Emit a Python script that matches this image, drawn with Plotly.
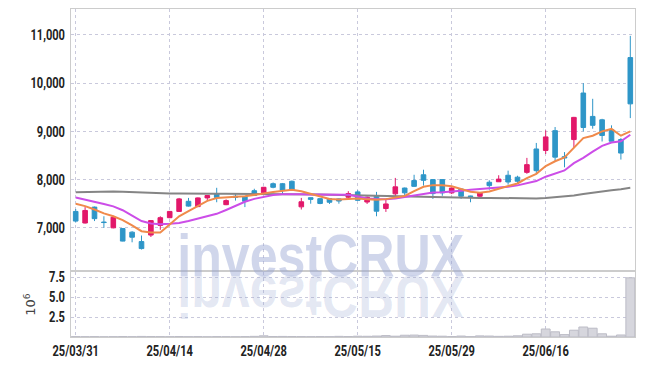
import plotly.graph_objects as go

dates = ["25/03/31", "25/04/01", "25/04/02", "25/04/03", "25/04/04",
         "25/04/07", "25/04/08", "25/04/09", "25/04/10", "25/04/11",
         "25/04/14", "25/04/15", "25/04/16", "25/04/17", "25/04/18",
         "25/04/21", "25/04/22", "25/04/23", "25/04/24", "25/04/25",
         "25/04/28", "25/04/29", "25/04/30", "25/05/02", "25/05/07",
         "25/05/08", "25/05/09", "25/05/12", "25/05/13", "25/05/14",
         "25/05/15", "25/05/16", "25/05/19", "25/05/20", "25/05/21",
         "25/05/22", "25/05/23", "25/05/26", "25/05/27", "25/05/28",
         "25/05/29", "25/05/30", "25/06/02", "25/06/04", "25/06/05",
         "25/06/09", "25/06/10", "25/06/11", "25/06/12", "25/06/13",
         "25/06/16", "25/06/17", "25/06/18", "25/06/19", "25/06/20",
         "25/06/23", "25/06/24", "25/06/25", "25/06/26", "25/06/27"]

open_ = [7340, 7100, 7430, 7120, 7000, 6985, 6910, 6715, 6850, 7050,
         7210, 7340, 7550, 7440, 7620, 7700, 7480, 7655, 7650, 7770,
         7725, 7915, 7915, 7965, 7435, 7625, 7605, 7605, 7600, 7635,
         7745, 7535, 7665, 7400, 7705, 7825, 7980, 8100, 8000, 8000,
         7725, 7805, 7660, 7655, 7945, 7955, 8090, 8050, 8150, 8635,
         8605, 9015, 8475, 8830, 9795, 9310, 9240, 9035, 8830, 10530]
high = [7390, 7430, 7440, 7240, 7250, 6990, 6930, 6840, 7160, 7240,
        7350, 7620, 7620, 7630, 7680, 7830, 7590, 7700, 7660, 7810,
        7850, 7940, 7930, 7980, 7620, 7630, 7610, 7610, 7610, 7760,
        7780, 7650, 7745, 7585, 8035, 7835, 8100, 8205, 8010, 8010,
        7840, 7810, 7665, 7730, 7985, 8090, 8185, 8080, 8450, 8760,
        9020, 9090, 8570, 9300, 10000, 9675, 9260, 9125, 8860, 10980]
low = [7110, 7090, 7140, 7000, 6990, 6720, 6700, 6550, 6810, 6960,
       7200, 7330, 7440, 7430, 7570, 7530, 7470, 7565, 7430, 7660,
       7710, 7820, 7700, 7780, 7380, 7500, 7490, 7495, 7500, 7600,
       7560, 7495, 7240, 7330, 7650, 7665, 7850, 7875, 7600, 7665,
       7700, 7600, 7530, 7600, 7790, 7950, 7895, 7920, 8120, 8120,
       8530, 8370, 8255, 8655, 9000, 9055, 8790, 8790, 8415, 9275]
close = [7140, 7360, 7190, 7110, 7220, 6725, 6805, 6570, 7150, 7210,
         7340, 7600, 7450, 7620, 7670, 7630, 7565, 7635, 7550, 7670,
         7840, 7840, 7775, 7790, 7540, 7590, 7505, 7530, 7555, 7710,
         7570, 7635, 7345, 7495, 7850, 7725, 7860, 7985, 7710, 7725,
         7825, 7655, 7650, 7725, 7875, 8010, 7950, 7965, 8310, 8185,
         8885, 8465, 8450, 9290, 9080, 9125, 8915, 8795, 8550, 9570]

ma_short = [7500, 7450, 7380, 7300, 7240, 7160, 7050, 6930, 6905, 6905,
            7070, 7240, 7345, 7450, 7560, 7620, 7640, 7645, 7655, 7675,
            7710, 7745, 7775, 7790, 7760, 7705, 7650, 7600, 7585, 7600,
            7610, 7590, 7580, 7595, 7625, 7660, 7760, 7850, 7885, 7885,
            7860, 7810, 7750, 7725, 7755, 7810, 7860, 7920, 8030, 8120,
            8280, 8380, 8460, 8650, 8860, 8910, 9000, 9050, 8910, 9000]
ma_mid = [7630, 7590, 7540, 7495, 7445, 7365, 7255, 7140, 7090, 7075,
          7085, 7100, 7140, 7185, 7230, 7290, 7370, 7460, 7540, 7600,
          7645, 7680, 7695, 7700, 7695, 7690, 7690, 7690, 7690, 7685,
          7650, 7610, 7600, 7595, 7610, 7640, 7680, 7710, 7730, 7740,
          7750, 7770, 7790, 7805, 7815, 7830, 7850, 7880, 7920, 7970,
          8060, 8130, 8190, 8340, 8450, 8580, 8700, 8770, 8795, 8930]
ma_long = [7740, 7745, 7750, 7755, 7755, 7750, 7740, 7730, 7720, 7715,
           7710, 7710, 7705, 7705, 7705, 7705, 7705, 7705, 7705, 7705,
           7705, 7705, 7705, 7700, 7700, 7695, 7690, 7685, 7680, 7675,
           7670, 7665, 7660, 7655, 7650, 7645, 7640, 7635, 7635, 7630,
           7630, 7625, 7625, 7620, 7620, 7615, 7615, 7610, 7610, 7610,
           7620, 7635, 7650, 7670, 7700, 7730, 7760, 7780, 7800, 7830]

volume_m = [0.05, 0.04, 0.05, 0.03, 0.04, 0.06, 0.04, 0.07, 0.06, 0.05,
            0.04, 0.06, 0.04, 0.05, 0.03, 0.05, 0.04, 0.03, 0.05, 0.08,
            0.15, 0.06, 0.07, 0.06, 0.05, 0.04, 0.05, 0.04, 0.08, 0.06,
            0.10, 0.09, 0.12, 0.18, 0.10, 0.22, 0.24, 0.20, 0.12, 0.10,
            0.06, 0.12, 0.05, 0.14, 0.12, 0.08, 0.10, 0.15, 0.35, 0.40,
            1.00, 0.65, 0.30, 0.85, 1.25, 1.10, 0.40, 0.10, 0.25, 7.40]

price_ticks = [7000, 8000, 9000, 10000, 11000]
vol_ticks = [2.5, 5.0, 7.5]
vol_ticktext = ["2.5", "5.0", "7.5"]
x_ticks = dates[::10]
watermark = "investCRUX"

TICK_FONT = dict(family="Roboto, Liberation Sans", size=15, color="#222222", weight="bold")
GRID = "#c9c9dc"
AXLINE = "#cccccc"

fig = go.Figure()
fig.add_trace(go.Candlestick(
    x=dates, open=open_, high=high, low=low, close=close,
    increasing=dict(line=dict(color="#e2186a", width=1), fillcolor="#e2186a"),
    decreasing=dict(line=dict(color="#2e96c8", width=1), fillcolor="#2e96c8"),
    whiskerwidth=0, hoverinfo="skip", showlegend=False, xaxis="x", yaxis="y"))
fig.add_trace(go.Scatter(x=dates, y=ma_long, mode="lines", line=dict(color="#858585", width=2),
                         showlegend=False, hoverinfo="skip", xaxis="x", yaxis="y"))
fig.add_trace(go.Scatter(x=dates, y=ma_mid, mode="lines", line=dict(color="#cc4de8", width=2),
                         showlegend=False, hoverinfo="skip", xaxis="x", yaxis="y"))
fig.add_trace(go.Scatter(x=dates, y=ma_short, mode="lines", line=dict(color="#f08a4b", width=2),
                         showlegend=False, hoverinfo="skip", xaxis="x", yaxis="y"))
fig.add_trace(go.Bar(x=dates, y=volume_m, marker=dict(color="#d6d6dd", line=dict(color="#bcbcc6", width=1)),
                     showlegend=False, hoverinfo="skip", xaxis="x2", yaxis="y2"))

common_x = dict(type="category", categoryorder="array", categoryarray=dates,
                range=[-0.5, len(dates) - 0.5], tickmode="array", tickvals=x_ticks,
                showgrid=True, gridcolor=GRID, griddash="dot", gridwidth=1,
                showline=True, linecolor=AXLINE, linewidth=1, mirror=True,
                zeroline=False, ticks="", fixedrange=True, automargin=False)

fig.update_layout(
    width=645, height=366,
    margin=dict(l=71, r=10, t=9, b=29),
    paper_bgcolor="white", plot_bgcolor="white",
    bargap=0.06,
    xaxis=dict(**common_x, anchor="y", showticklabels=False, rangeslider=dict(visible=False)),
    xaxis2=dict(**common_x, anchor="y2", matches="x", showticklabels=True, tickfont=TICK_FONT),
    yaxis=dict(domain=[0.203, 1.0], range=[6117, 11537], tickvals=price_ticks, tickformat=",d",
               showgrid=True, gridcolor=GRID, griddash="dot", gridwidth=1,
               showline=True, linecolor=AXLINE, linewidth=1, mirror=True, automargin=False,
               zeroline=False, ticks="", tickfont=TICK_FONT, fixedrange=True, ticklabelstandoff=2),
    yaxis2=dict(domain=[0.0, 0.198], range=[0, 8.12], tickvals=vol_ticks, ticktext=vol_ticktext,
                showgrid=True, gridcolor=GRID, griddash="dot", gridwidth=1,
                showline=True, linecolor=AXLINE, linewidth=1, mirror=True, automargin=False,
                zeroline=False, ticks="", tickfont=TICK_FONT, fixedrange=True, ticklabelstandoff=2,
                title=dict(text="10<sup>6</sup>", standoff=4,
                           font=dict(family="DejaVu Sans", size=13, color="#444444"))),
    annotations=[
        dict(text=watermark, xref="paper", yref="paper", x=0.443, y=0.141, xanchor="center",
             yanchor="bottom", showarrow=False,
             font=dict(family="Liberation Sans", weight="bold", size=60, color="rgba(150,165,210,0.45)")),
        dict(text=watermark, xref="paper", yref="paper", x=0.443, y=0.141, xanchor="center",
             yanchor="bottom", showarrow=False,
             font=dict(family="Liberation Sans", weight="bold", size=60, color="rgba(150,165,210,0.27)")),
    ],
)

post_js = """
document.body.style.margin = '0';
document.body.style.padding = '0';
var gd = document.getElementById('{plot_id}');
function squeeze(t, k){
  var w = t.getAttribute('data-origw');
  if (!w) { w = t.getComputedTextLength(); t.setAttribute('data-origw', w); }
  t.setAttribute('textLength', parseFloat(w) * k);
  t.setAttribute('lengthAdjust', 'spacingAndGlyphs');
}
function fixup(){
  gd.querySelectorAll('g.xtick text, g.x2tick text, g.ytick text, g.y2tick text').forEach(function(t){ squeeze(t, 0.74); });
  gd.querySelectorAll('g.annotation').forEach(function(a){
    var t = a.querySelector('text.annotation-text');
    if (!t) return;
    squeeze(t, 0.835);
    if (a.getAttribute('data-index') === '1') {
      var y = parseFloat(t.getAttribute('y') || '0');
      t.setAttribute('transform', 'translate(0,' + (2 * y) + ') scale(1,-1)');
    }
  });
}
fixup();
gd.on('plotly_afterplot', fixup);
"""

fig.write_html("out.html", post_script=post_js, config={"displayModeBar": False})
